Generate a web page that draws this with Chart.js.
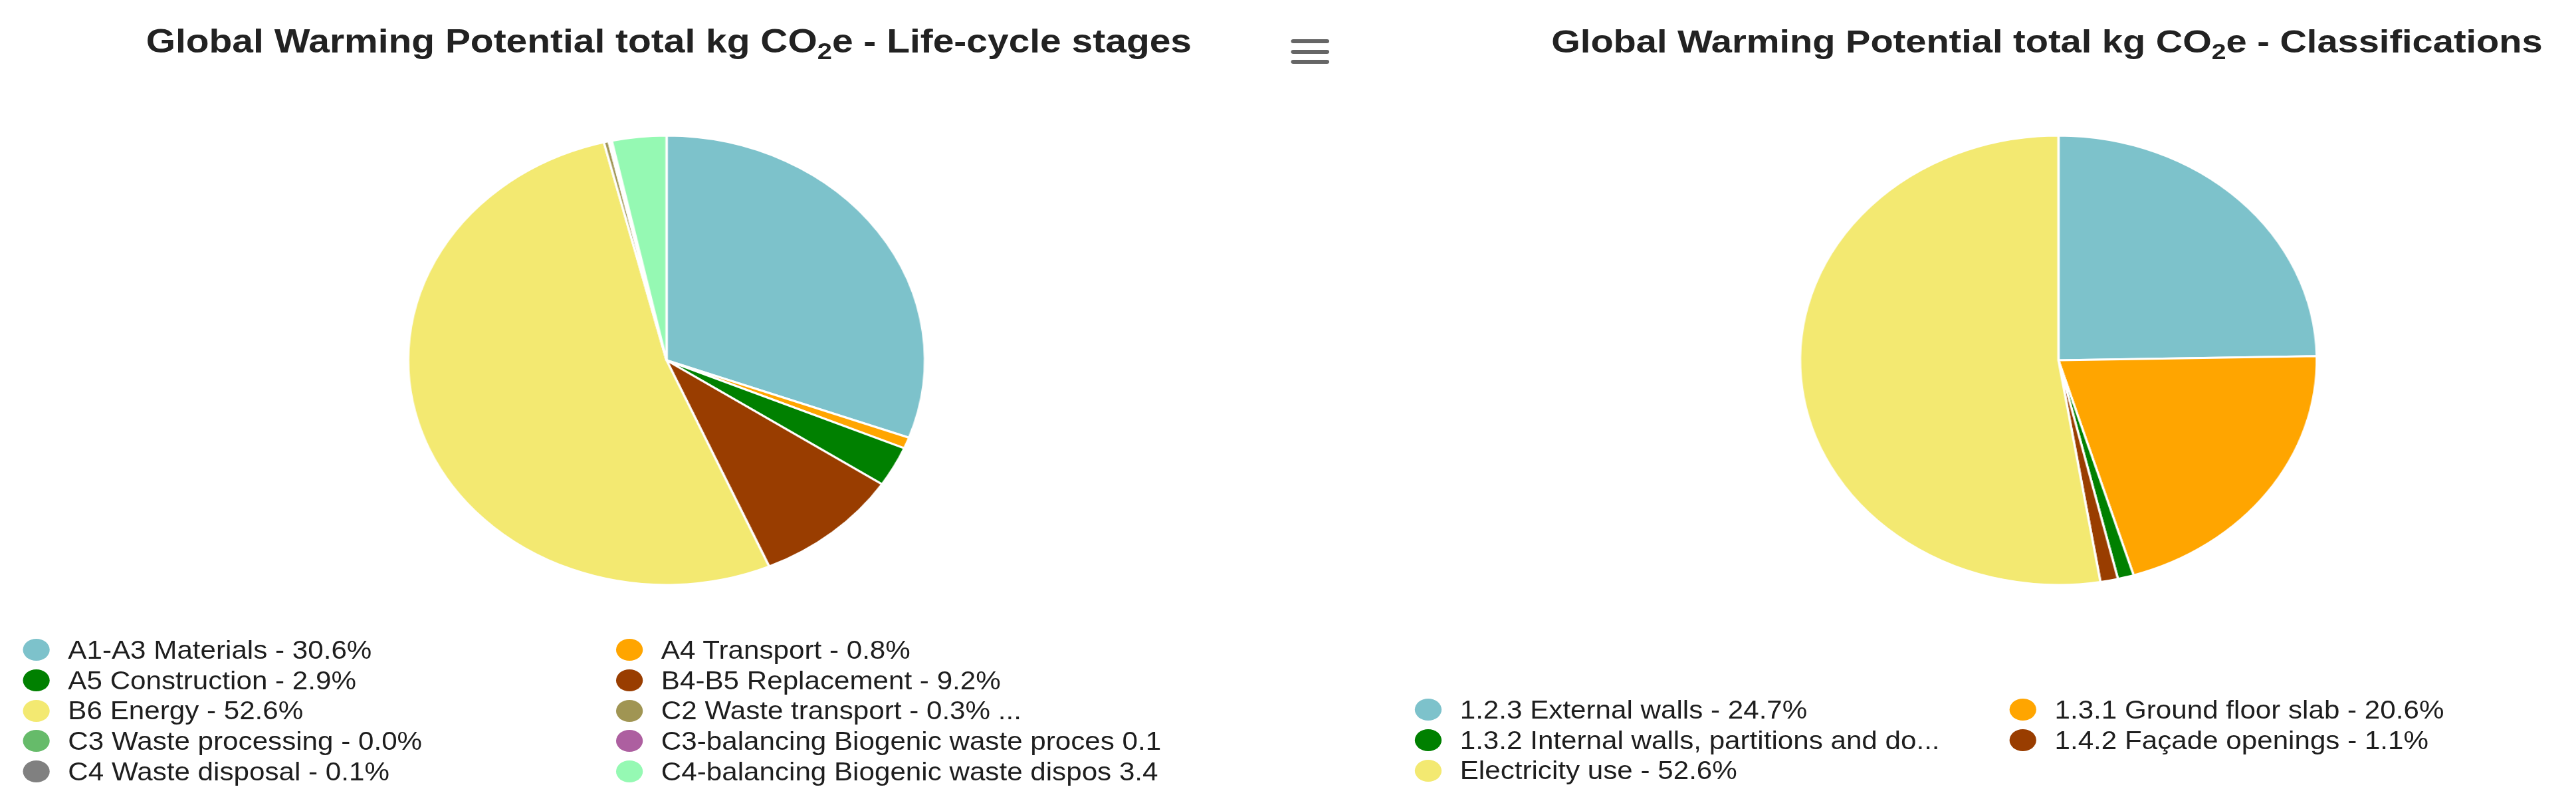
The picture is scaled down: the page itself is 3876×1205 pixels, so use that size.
<!DOCTYPE html>
<html>
<head>
<meta charset="utf-8">
<script src="https://cdn.jsdelivr.net/npm/chart.js@4.4.1/dist/chart.umd.min.js"></script>
<style>
  html, body { margin: 0; padding: 0; background: #ffffff; overflow: hidden; }
  body { width: 3876px; height: 1205px; position: relative; }
  #page {
    position: absolute; left: 0; top: 0; width: 3370px; height: 1205px;
    transform: scaleX(1.1501); transform-origin: 0 0;
    font-family: "Liberation Sans", Arial, sans-serif;
  }
  .title {
    position: absolute; top: 37px; font-weight: bold; font-size: 49.5px; line-height: 50px;
    white-space: nowrap; transform: translateX(-50%); color: #222222;
  }
  .title .sub { font-size: 0.7em; vertical-align: -0.28em; }
  .pie { position: absolute; width: 720px; height: 720px; }
  .legend {
    position: absolute; display: grid; grid-auto-rows: 45.7px;
    font-size: 39px; color: #1e1e1e;
  }
  .item { display: flex; align-items: center; white-space: nowrap; }
  .marker { width: 35px; height: 33px; border-radius: 50%; margin-right: 24px; flex: none; }
  .label { display: inline-block; transform: scaleX(0.94); transform-origin: 0 50%; }
  #menu { position: absolute; left: 1689px; top: 59px; width: 50px; }
  #menu div { width: 50px; height: 6px; border-radius: 3px; background: #666666; margin-bottom: 9.5px; }
</style>
</head>
<body>
<div id="page">
  <div class="title" style="left:875px">Global Warming Potential total kg CO<span class="sub">2</span>e - Life-cycle stages</div>
  <div class="title" style="left:2678px; font-size:48.7px">Global Warming Potential total kg CO<span class="sub">2</span>e - Classifications</div>
  <div id="menu"><div></div><div></div><div></div></div>

  <div class="pie" style="left:512px; top:182px"><canvas id="stagesPie"></canvas></div>
  <div class="pie" style="left:2333px; top:182px"><canvas id="classPie"></canvas></div>

  <div class="legend" id="stagesLegend" style="left:30px; top:955px; grid-template-columns: 776px 776px;"></div>
  <div class="legend" id="classLegend" style="left:1851px; top:1045px; grid-template-columns: 778px 778px;"></div>
</div>

<script>
// ---- Data ----
const stageLabels = [
  'A1-A3 Materials - 30.6%',
  'A4 Transport - 0.8%',
  'A5 Construction - 2.9%',
  'B4-B5 Replacement - 9.2%',
  'B6 Energy - 52.6%',
  'C2 Waste transport - 0.3% ...',
  'C3 Waste processing - 0.0%',
  'C3-balancing Biogenic waste proces 0.1',
  'C4 Waste disposal - 0.1%',
  'C4-balancing Biogenic waste dispos 3.4'
];
const stageValues = [30.6, 0.8, 2.9, 9.2, 52.6, 0.3, 0.0, 0.1, 0.1, 3.4];

const classLabels = [
  '1.2.3 External walls - 24.7%',
  '1.3.1 Ground floor slab - 20.6%',
  '1.3.2 Internal walls, partitions and do...',
  '1.4.2 Façade openings - 1.1%',
  'Electricity use - 52.6%'
];
const classValues = [24.7, 20.6, 1.0, 1.1, 52.6];

// ---- Styles ----
const stageColors = ['#7dc2cb', '#ffa500', '#008000', '#993d00', '#f3e971',
                     '#a09553', '#66bb6a', '#ad5fa0', '#808080', '#95f9b3'];
const classColors = ['#7dc2cb', '#ffa500', '#008000', '#993d00', '#f3e971'];

function makePie(id, labels, values, colors) {
  return new Chart(document.getElementById(id), {
    type: 'pie',
    data: {
      labels: labels,
      datasets: [{
        data: values,
        backgroundColor: colors,
        borderColor: '#ffffff',
        borderWidth: 3,
        radius: 338,
        hoverOffset: 0
      }]
    },
    options: {
      responsive: true,
      maintainAspectRatio: false,
      animation: false,
      events: [],
      layout: { padding: 0 },
      plugins: {
        legend: { display: false },
        tooltip: { enabled: false },
        title: { display: false }
      }
    }
  });
}

function buildLegend(chart, containerId) {
  const box = document.getElementById(containerId);
  const ds = chart.data.datasets[0];
  chart.data.labels.forEach((lab, i) => {
    const item = document.createElement('div');
    item.className = 'item';
    const m = document.createElement('span');
    m.className = 'marker';
    m.style.background = ds.backgroundColor[i];
    const t = document.createElement('span');
    t.className = 'label';
    t.textContent = lab;
    item.appendChild(m);
    item.appendChild(t);
    box.appendChild(item);
  });
}

const c1 = makePie('stagesPie', stageLabels, stageValues, stageColors);
const c2 = makePie('classPie', classLabels, classValues, classColors);
buildLegend(c1, 'stagesLegend');
buildLegend(c2, 'classLegend');
</script>
</body>
</html>
